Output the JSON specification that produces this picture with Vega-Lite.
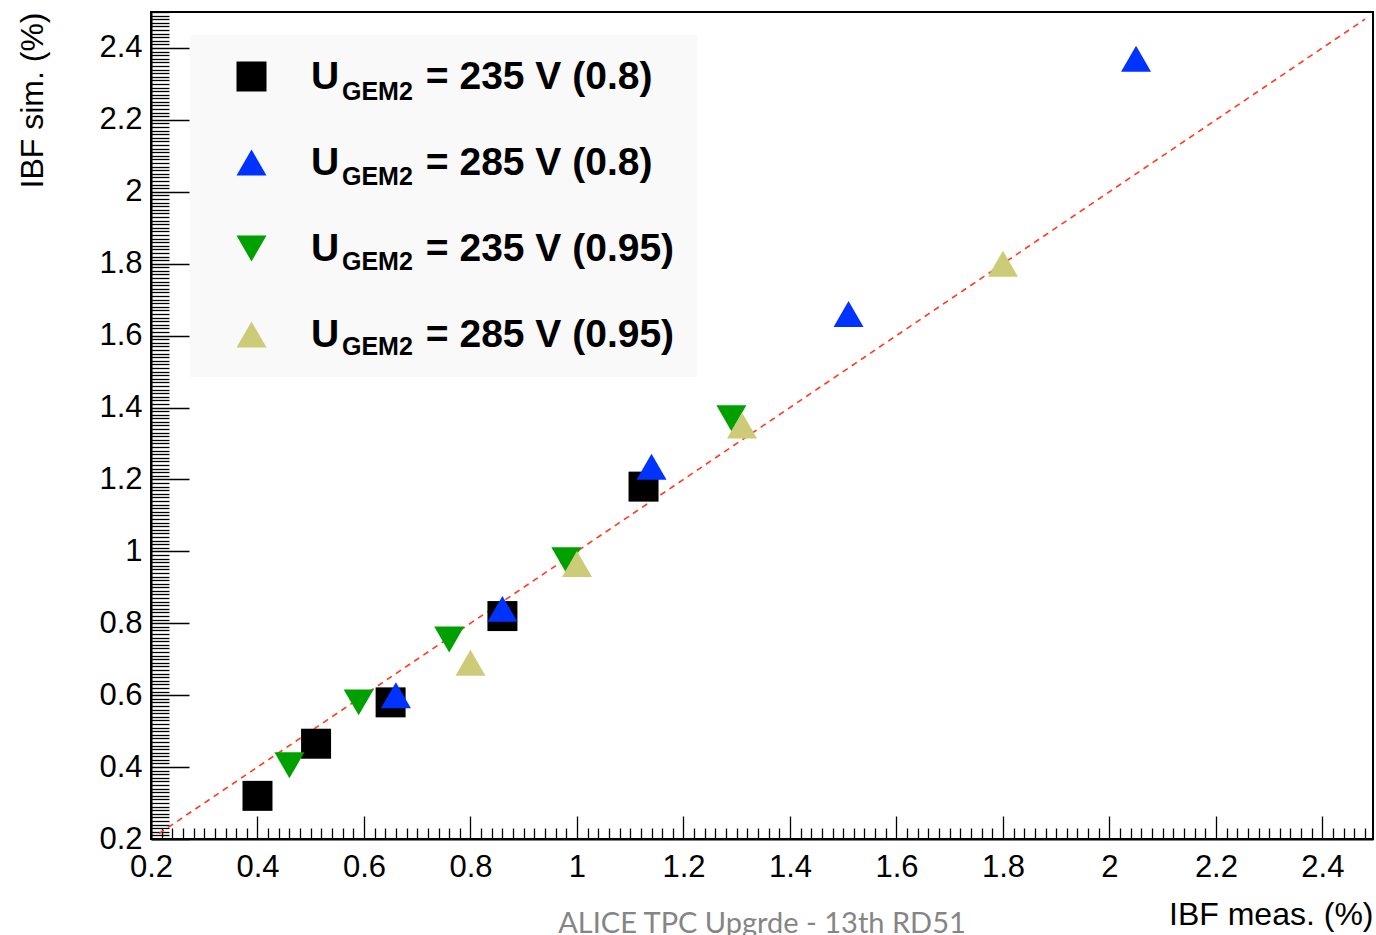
{
  "$schema": "https://vega.github.io/schema/vega-lite/v6.json",
  "width": 1222,
  "height": 827,
  "autosize": {"type": "none"},
  "padding": {"left": 151, "top": 12, "right": 3, "bottom": 96},
  "background": "white",
  "config": {
    "view": {"stroke": "black", "strokeWidth": 2},
    "font": "Liberation Sans"
  },
  "title": {
    "text": "ALICE TPC Upgrde - 13th RD51",
    "orient": "bottom",
    "frame": "group",
    "anchor": "middle",
    "offset": -20,
    "font": "Lato",
    "fontSize": 29,
    "fontWeight": "normal",
    "color": "#858585",
    "baseline": "top"
  },
  "datasets": {
    "points": [
      {"series": "235 V (0.8)", "x": 0.40, "y": 0.32},
      {"series": "235 V (0.8)", "x": 0.51, "y": 0.465},
      {"series": "235 V (0.8)", "x": 0.65, "y": 0.58},
      {"series": "235 V (0.8)", "x": 0.86, "y": 0.82},
      {"series": "235 V (0.8)", "x": 1.125, "y": 1.18},
      {"series": "285 V (0.8)", "x": 0.66, "y": 0.60},
      {"series": "285 V (0.8)", "x": 0.86, "y": 0.84},
      {"series": "285 V (0.8)", "x": 1.14, "y": 1.235},
      {"series": "285 V (0.8)", "x": 1.51, "y": 1.66},
      {"series": "285 V (0.8)", "x": 2.05, "y": 2.37},
      {"series": "235 V (0.95)", "x": 0.46, "y": 0.405},
      {"series": "235 V (0.95)", "x": 0.59, "y": 0.58},
      {"series": "235 V (0.95)", "x": 0.76, "y": 0.755},
      {"series": "235 V (0.95)", "x": 0.98, "y": 0.975},
      {"series": "235 V (0.95)", "x": 1.29, "y": 1.37},
      {"series": "285 V (0.95)", "x": 0.80, "y": 0.69},
      {"series": "285 V (0.95)", "x": 1.0, "y": 0.965},
      {"series": "285 V (0.95)", "x": 1.31, "y": 1.35},
      {"series": "285 V (0.95)", "x": 1.80, "y": 1.80}
    ],
    "diag": [
      {"v": 0.215},
      {"v": 2.48}
    ]
  },
  "layer": [
    {
      "data": {"name": "diag"},
      "mark": {"type": "line", "color": "#ff3a1e", "strokeWidth": 1.6, "strokeDash": [6, 5]},
      "encoding": {
        "x": {
          "field": "v",
          "type": "quantitative",
          "scale": {"domain": [0.2, 2.495], "nice": false, "zero": false},
          "axis": {
            "orient": "bottom",
            "tickCount": 115,
            "labels": false,
            "grid": false,
            "title": null,
            "domain": true,
            "domainColor": "black",
            "domainWidth": 2,
            "tickColor": "black",
            "tickWidth": 1.3,
            "tickSize": {"condition": {"test": "abs(datum.value*5 - round(datum.value*5)) < 0.001", "value": -23}, "value": -11}
          }
        },
        "y": {
          "field": "v",
          "type": "quantitative",
          "scale": {"domain": [0.2, 2.5], "nice": false, "zero": false},
          "axis": {
            "orient": "left",
            "tickCount": 230,
            "labels": false,
            "grid": false,
            "title": null,
            "domain": true,
            "domainColor": "black",
            "domainWidth": 2,
            "tickColor": "black",
            "tickWidth": 1.3,
            "tickSize": {"condition": {"test": "abs(datum.value*5 - round(datum.value*5)) < 0.001", "value": -38}, "value": -18}
          }
        }
      }
    },
    {
      "data": {"name": "points"},
      "mark": {"type": "point", "filled": true, "opacity": 1, "size": 900, "strokeWidth": 0},
      "encoding": {
        "x": {
          "field": "x",
          "type": "quantitative",
          "axis": {
            "orient": "bottom",
            "values": [0.2, 0.4, 0.6, 0.8, 1, 1.2, 1.4, 1.6, 1.8, 2, 2.2, 2.4],
            "ticks": false,
            "domain": false,
            "grid": false,
            "labelFont": "Liberation Sans",
            "labelFontSize": 31,
            "labelColor": "black",
            "labelPadding": 13,
            "labelFlush": false,
            "labelOverlap": false,
            "labelExpr": "format(datum.value, '~g')",
            "title": "IBF meas. (%)",
            "titleAnchor": "end",
            "titleFont": "Liberation Sans",
            "titleFontSize": 32,
            "titleFontWeight": "normal",
            "titleColor": "black",
            "titlePadding": 17
          }
        },
        "y": {
          "field": "y",
          "type": "quantitative",
          "axis": {
            "orient": "left",
            "values": [0.2, 0.4, 0.6, 0.8, 1, 1.2, 1.4, 1.6, 1.8, 2, 2.2, 2.4],
            "ticks": false,
            "domain": false,
            "grid": false,
            "labelFont": "Liberation Sans",
            "labelFontSize": 31,
            "labelColor": "black",
            "labelPadding": 9,
            "labelFlush": false,
            "labelOverlap": false,
            "labelExpr": "format(datum.value, '~g')",
            "title": "IBF sim. (%)",
            "titleAnchor": "end",
            "titleFont": "Liberation Sans",
            "titleFontSize": 32,
            "titleFontWeight": "normal",
            "titleColor": "black",
            "titlePadding": 49
          }
        },
        "color": {
          "field": "series",
          "type": "nominal",
          "scale": {
            "domain": ["235 V (0.8)", "285 V (0.8)", "235 V (0.95)", "285 V (0.95)"],
            "range": ["#000000", "#0033ff", "#00a000", "#cccc78"]
          },
          "legend": {
            "orient": "none",
            "legendX": 39,
            "legendY": 23,
            "title": null,
            "padding": 22,
            "fillColor": "#f9f9f9",
            "strokeColor": null,
            "symbolSize": 900,
            "symbolStrokeWidth": 0,
            "symbolOpacity": 1,
            "symbolOffset": 20,
            "labelOffset": 40,
            "rowPadding": 46,
            "labelFont": "Liberation Sans",
            "labelFontWeight": "bold",
            "labelFontSize": 39,
            "labelColor": "black",
            "labelLimit": 1000,
            "labelExpr": "'U' + '\u00a0\u00a0\u00a0\u00a0\u00a0\u00a0\u00a0\u00a0' + '= ' + datum.label"
          }
        },
        "shape": {
          "field": "series",
          "type": "nominal",
          "scale": {
            "domain": ["235 V (0.8)", "285 V (0.8)", "235 V (0.95)", "285 V (0.95)"],
            "range": ["square", "triangle-up", "triangle-down", "triangle-up"]
          }
        },
        "opacity": {
          "field": "series",
          "type": "nominal",
          "scale": {"type": "ordinal", "range": [1, 1, 1, 1]},
          "legend": {
            "orient": "none",
            "legendX": 161,
            "legendY": 65,
            "title": null,
            "padding": 0,
            "symbolSize": 900,
            "symbolStrokeWidth": 0,
            "symbolOpacity": 0,
            "symbolFillColor": "transparent",
            "symbolStrokeColor": "transparent",
            "labelOffset": 0,
            "rowPadding": 55,
            "labelFont": "Liberation Sans",
            "labelFontWeight": "bold",
            "labelFontSize": 25,
            "labelColor": "black",
            "labelLimit": 500,
            "labelExpr": "'GEM2'",
            "encode": {"symbols": {"update": {"opacity": {"value": 0}, "fill": {"value": "transparent"}, "fillOpacity": {"value": 0}}}}
          }
        }
      }
    }
  ],
  "resolve": {"axis": {"x": "independent", "y": "independent"}}
}
